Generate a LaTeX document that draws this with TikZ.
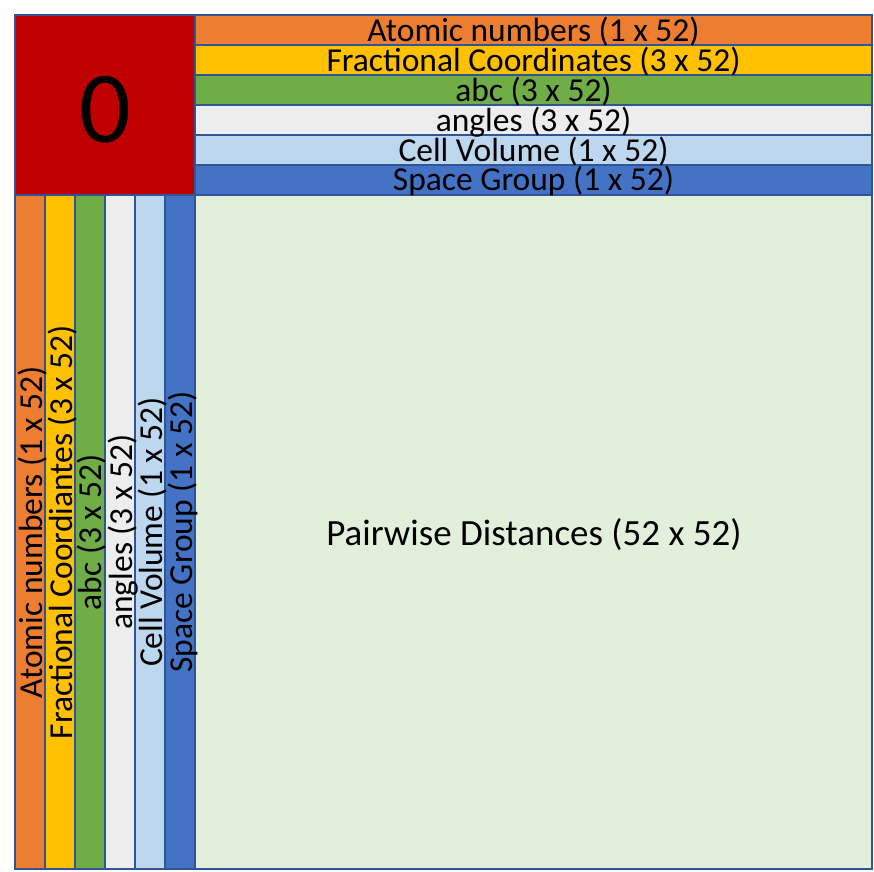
\documentclass[tikz,border=0pt]{standalone}
\usepackage{fontspec}
\setmainfont{Carlito}
\definecolor{edgeblue}{HTML}{2F5597}
\definecolor{cred}{HTML}{C00000}
\definecolor{corange}{HTML}{ED7D31}
\definecolor{cyellow}{HTML}{FFC000}
\definecolor{cgreen}{HTML}{70AD47}
\definecolor{cgray}{HTML}{EDEDED}
\definecolor{clblue}{HTML}{BDD7EE}
\definecolor{cblue}{HTML}{4472C4}
\definecolor{clgreen}{HTML}{E2EFDA}
\begin{document}
\begin{tikzpicture}[x=1pt,y=-1pt,
  cell/.style={draw=edgeblue, line width=2.2pt, inner sep=0pt, outer sep=0pt},
  hbar/.style={cell, minimum width=677pt, minimum height=30pt},
  vbar/.style={cell, minimum width=30pt, minimum height=674pt},
  lbl/.style={inner sep=0pt, anchor=base, font=\fontsize{33.5}{33.5}\selectfont},
  vlbl/.style={lbl, rotate=90}]
\useasboundingbox (0,0) rectangle (874,871);
\fill[white] (0,0) rectangle (874,871);
% corner
\node[cell, fill=cred, minimum width=180pt, minimum height=180pt] (zero) at (105,105) {};
\node[inner sep=0pt, anchor=base, font=\fontsize{102}{102}\selectfont] (zerotxt) at (105,142) {0};
% big block
\node[cell, fill=clgreen, minimum width=677pt, minimum height=674pt] (dist) at (533.5,532) {};
\node[inner sep=0pt, anchor=base, font=\fontsize{37}{37}\selectfont] (disttxt) at (534,545) {Pairwise Distances (52 x 52)};
% top bars
\node[hbar, fill=corange] (t1) at (533.5,30) {};
\node[hbar, fill=cyellow] (t2) at (533.5,60) {};
\node[hbar, fill=cgreen]  (t3) at (533.5,90) {};
\node[hbar, fill=cgray]   (t4) at (533.5,120) {};
\node[hbar, fill=clblue]  (t5) at (533.5,150) {};
\node[hbar, fill=cblue]   (t6) at (533.5,180) {};
\node[lbl] (t1l) at (533.5,41.5) {Atomic numbers (1 x 52)};
\node[lbl] (t2l) at (533.5,71.5) {Fractional Coordinates (3 x 52)};
\node[lbl] (t3l) at (533.5,101.5) {abc (3 x 52)};
\node[lbl] (t4l) at (533.5,131) {angles (3 x 52)};
\node[lbl] (t5l) at (533.5,161.5) {Cell Volume (1 x 52)};
\node[lbl] (t6l) at (533.5,190.5) {Space Group (1 x 52)};
% left columns
\node[vbar, fill=corange] (v1) at (30,532) {};
\node[vbar, fill=cyellow] (v2) at (60,532) {};
\node[vbar, fill=cgreen]  (v3) at (90,532) {};
\node[vbar, fill=cgray]   (v4) at (120,532) {};
\node[vbar, fill=clblue]  (v5) at (150,532) {};
\node[vbar, fill=cblue]   (v6) at (180,532) {};
\node[vlbl] (v1l) at (42.5,532) {Atomic numbers (1 x 52)};
\node[vlbl] (v2l) at (72.5,532) {Fractional Coordiantes (3 x 52)};
\node[vlbl] (v3l) at (101.5,532) {abc (3 x 52)};
\node[vlbl] (v4l) at (132.5,532) {angles (3 x 52)};
\node[vlbl] (v5l) at (162.5,532) {Cell Volume (1 x 52)};
\node[vlbl] (v6l) at (192.5,532) {Space Group (1 x 52)};
\end{tikzpicture}
\end{document}
